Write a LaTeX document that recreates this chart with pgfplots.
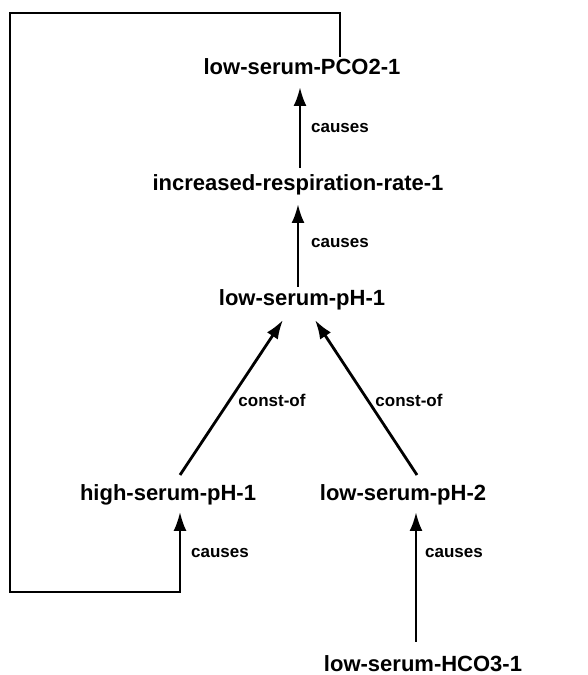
\documentclass[border=0pt]{standalone}
\usepackage{fontspec}
\setmainfont{Liberation Sans}
\usepackage{pgfplots}
\pgfplotsset{compat=1.18}
\usetikzlibrary{arrows.meta}
\begin{document}
\begin{tikzpicture}
\begin{axis}[
    width=588pt, height=675pt, scale only axis,
    xmin=0, xmax=588, ymin=0, ymax=675,
    hide axis, clip=false,
    link/.style={black, no markers, line width=2.8pt, -{Latex[length=19pt,width=13pt]}},
]
% keep the whole frame as the picture's bounding box
\path (rel axis cs:0,0) rectangle (rel axis cs:1,1);
% causal links (pixel coordinates, y measured from the bottom)
\addplot[link] coordinates {(300,507) (300,588)};
\addplot[link] coordinates {(298,388) (298,471)};
\addplot[link] coordinates {(180,200) (283,355)};
\addplot[link] coordinates {(417,200) (315,355)};
\addplot[link] coordinates {(416,33) (416,163)};
% feedback loop
\addplot[link, line width=2.2pt] coordinates {(340,618) (340,662) (10,662) (10,83) (180,83) (180,163)};

\tikzset{nd/.style={font=\fontsize{22}{24}\selectfont\bfseries, inner sep=0pt},
         lb/.style={font=\fontsize{17}{18}\selectfont\bfseries, inner sep=0pt}}
\node[nd] at (axis cs:302,608) {low-serum-PCO2-1};
\node[nd] at (axis cs:298,490) {increased-respiration-rate-1};
\node[nd] at (axis cs:302,375) {low-serum-pH-1};
\node[nd] at (axis cs:168,180) {high-serum-pH-1};
\node[nd] at (axis cs:403,180) {low-serum-pH-2};
\node[nd] at (axis cs:423,11) {low-serum-HCO3-1};
\node[lb] at (axis cs:340,547) {causes};
\node[lb] at (axis cs:340,432) {causes};
\node[lb] at (axis cs:272,275) {const-of};
\node[lb] at (axis cs:409,275) {const-of};
\node[lb] at (axis cs:220,122) {causes};
\node[lb] at (axis cs:454,122) {causes};
\end{axis}
\end{tikzpicture}
\end{document}
